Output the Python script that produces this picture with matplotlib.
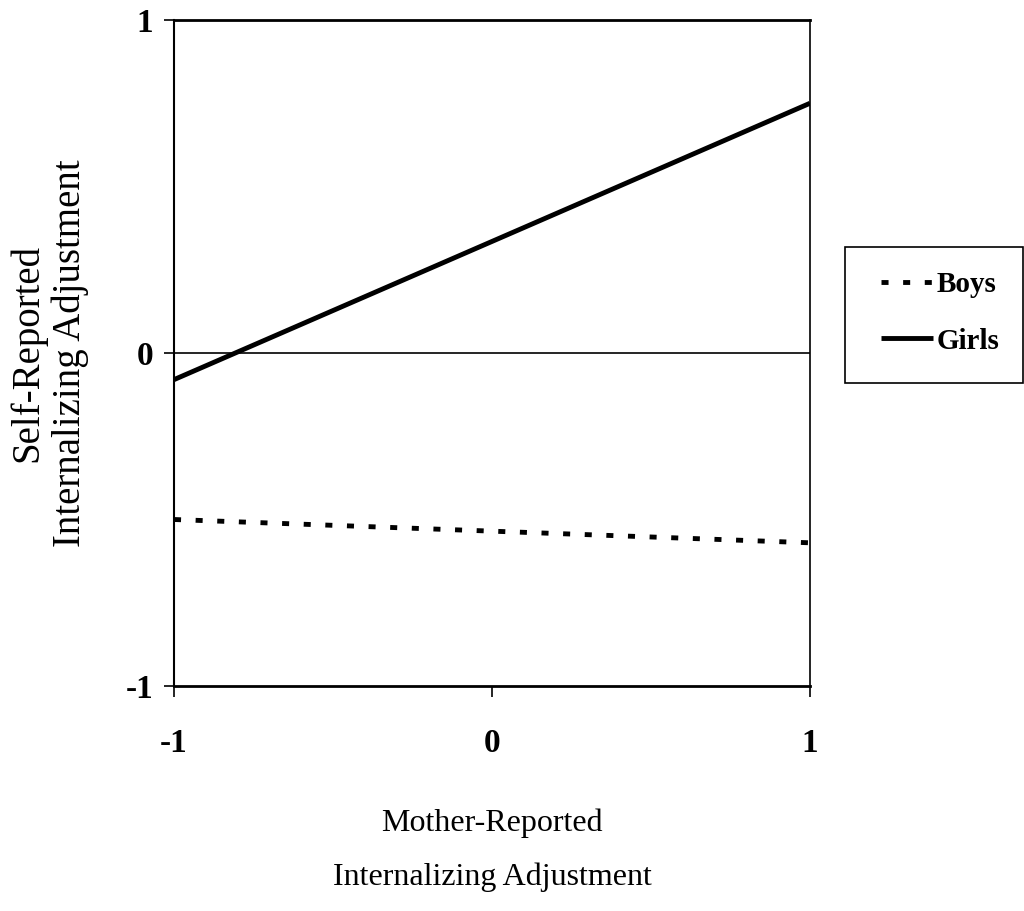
import matplotlib
matplotlib.use("Agg")
import matplotlib.pyplot as plt
from matplotlib.patches import Rectangle

# Data
x_vals = [-1, 1]
boys = [-0.50, -0.57]
girls = [-0.08, 0.75]
x_ticks = [-1, 0, 1]
y_ticks = [-1, 0, 1]
tick_labels = ["-1", "0", "1"]

plt.rcParams['font.family'] = ['Liberation Serif', 'DejaVu Serif']

W, H = 1024, 911
fig = plt.figure(figsize=(W/100, H/100), dpi=100)
ax = fig.add_axes([174/W, 1-686/H, (810-174)/W, (686-20)/H])

ax.plot(x_vals, boys, color='black', lw=3.5, linestyle=(0, (1.45, 3.0)),
        dash_capstyle='butt', label='Boys')
ax.plot(x_vals, girls, color='black', lw=3.5, solid_capstyle='butt', label='Girls')
ax.axhline(0, color='black', lw=1.2)

ax.set_xlim(-1, 1)
ax.set_ylim(-1, 1)
ax.set_xticks(x_ticks)
ax.set_xticklabels(tick_labels, fontsize=24, fontweight='bold')
ax.set_yticks(y_ticks)
ax.set_yticklabels(tick_labels, fontsize=24, fontweight='bold')
ax.tick_params(axis='x', direction='out', length=8, width=1.2, pad=22)
ax.tick_params(axis='y', direction='out', length=7, width=1.2, pad=8)

ax.spines['top'].set_linewidth(2)
ax.spines['bottom'].set_linewidth(2)
ax.spines['left'].set_linewidth(1.5)
ax.spines['right'].set_linewidth(1.2)

ax.set_xlabel("Mother-Reported\nInternalizing Adjustment", fontsize=23,
              labelpad=36, linespacing=2.1)
ax.set_ylabel("Self-Reported\nInternalizing Adjustment", fontsize=28,
              labelpad=26, linespacing=1.2)

# legend box
fig.patches.append(Rectangle((845/W, 1-383/H), (1023-845)/W, (383-247)/H,
                             transform=fig.transFigure, fill=False,
                             edgecolor='black', lw=1.2))
leg = ax.legend(loc='center', bbox_to_anchor=(940/W, 1-313/H),
                bbox_transform=fig.transFigure, frameon=False,
                fontsize=21, handlelength=1.8, handletextpad=0.1,
                borderpad=0, labelspacing=1.0, borderaxespad=0)
for t in leg.get_texts():
    t.set_fontweight('bold')

fig.savefig("out.png", dpi=100)
